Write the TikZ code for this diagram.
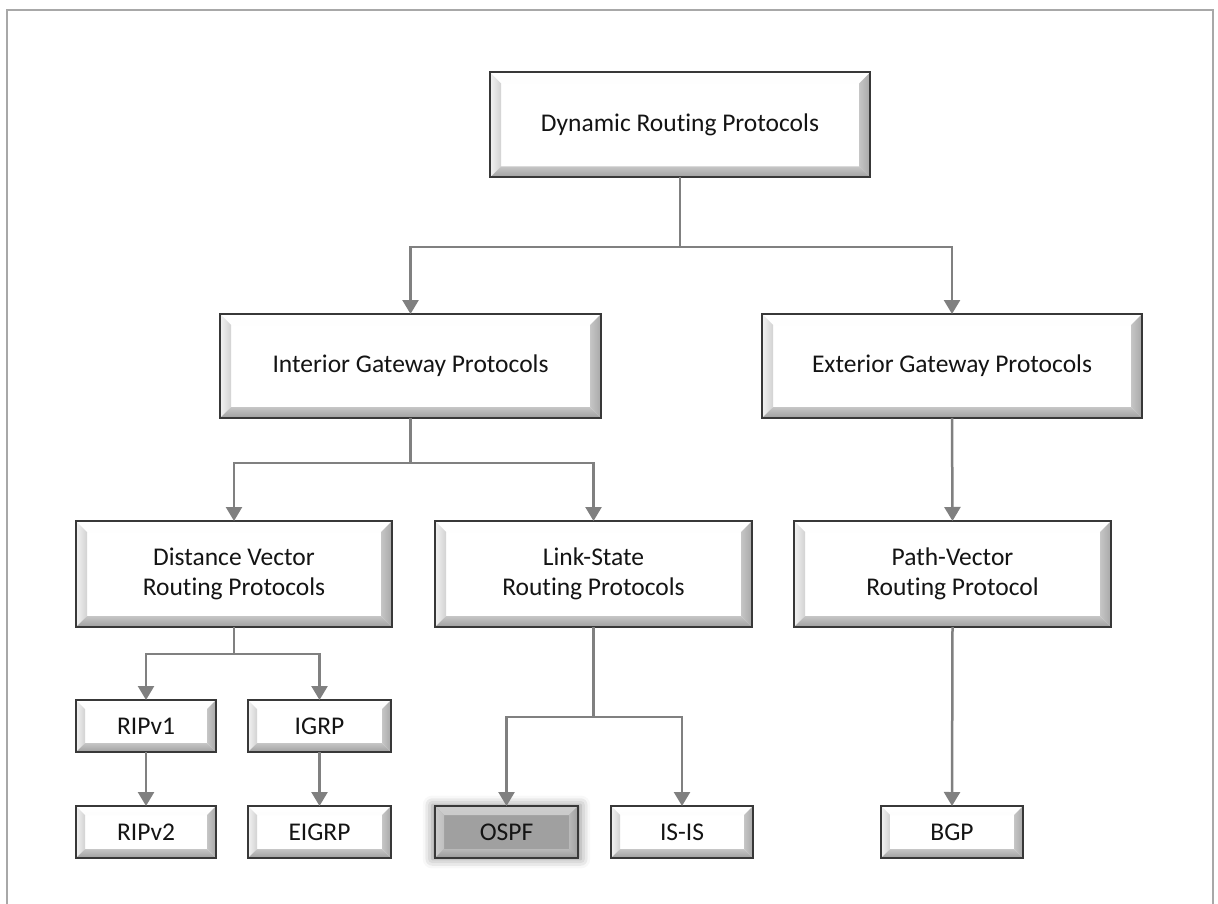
\documentclass[tikz,border=0pt]{standalone}
\usepackage{fontspec}
\setmainfont[Ligatures={NoCommon}]{Carlito}
\usetikzlibrary{arrows.meta,shadows.blur}
\definecolor{boxline}{HTML}{383838}
\definecolor{conn}{HTML}{808080}
\definecolor{txt}{HTML}{141414}
\definecolor{frame}{HTML}{A8A8A8}
\definecolor{ospffill}{HTML}{A0A0A0}
\newcommand\bevdraw[9]{%
  \path[top color=#2,bottom color=#3]
    (path picture bounding box.north west) -- (path picture bounding box.north east)
    -- ([shift={(-#1,-#1)}]path picture bounding box.north east)
    -- ([shift={(#1,-#1)}]path picture bounding box.north west) -- cycle;
  \path[left color=#4,right color=#5]
    (path picture bounding box.north west) -- ([shift={(#1,-#1)}]path picture bounding box.north west)
    -- ([shift={(#1,#1)}]path picture bounding box.south west)
    -- (path picture bounding box.south west) -- cycle;
  \path[left color=#6,right color=#7]
    (path picture bounding box.north east) -- ([shift={(-#1,-#1)}]path picture bounding box.north east)
    -- ([shift={(-#1,#1)}]path picture bounding box.south east)
    -- (path picture bounding box.south east) -- cycle;
  \path[top color=#8,bottom color=#9]
    (path picture bounding box.south west) -- ([shift={(#1,#1)}]path picture bounding box.south west)
    -- ([shift={(-#1,#1)}]path picture bounding box.south east)
    -- (path picture bounding box.south east) -- cycle;
}
\tikzset{
  bx/.style={draw=boxline, line width=2pt, fill=white, inner sep=0pt, outer sep=0pt,
    align=center, font=\fontsize{25.5}{30}\selectfont, text=txt},
  bigbox/.style={bx, minimum height=105pt,
    path picture={\bevdraw{11pt}{white}{gray!12}{gray!10}{gray!35}{gray!45}{gray!68}{gray!45}{gray!75}}},
  smallbox/.style={bx, minimum width=142pt, minimum height=52pt,
    path picture={\bevdraw{9pt}{white}{gray!12}{gray!10}{gray!35}{gray!45}{gray!68}{gray!45}{gray!75}}},
  darkbox/.style={bx, fill=ospffill, minimum width=142pt, minimum height=52pt,
    blur shadow={shadow xshift=0pt, shadow yshift=0pt, shadow blur radius=9pt, shadow opacity=45, shadow scale=1.04},
    path picture={\bevdraw{9pt}{gray!40}{gray!45}{gray!40}{gray!50}{gray!55}{gray!75}{gray!55}{gray!80}}},
  line/.style={draw=conn, line width=2.5pt},
  arr/.style={line, -{Triangle[width=16pt,length=14pt]}},
}
\begin{document}
\begin{tikzpicture}[x=1pt,y=-1pt]
\useasboundingbox (0,0) rectangle (1218,904);
\draw[frame, line width=2pt] (7,10) rectangle (1213,930);

\node[bigbox, minimum width=380pt] (dyn) at (680,125) {Dynamic Routing Protocols};
\node[bigbox, minimum width=381pt, minimum height=104pt] (igp) at (410.5,366) {Interior Gateway Protocols};
\node[bigbox, minimum width=380pt, minimum height=104pt] (egp) at (952,366) {Exterior Gateway Protocols};
\node[bigbox, minimum width=316pt, minimum height=106pt] (dv) at (234,574) {Distance Vector\\Routing Protocols};
\node[bigbox, minimum width=317pt, minimum height=106pt] (ls) at (593.5,574) {Link-State\\Routing Protocols};
\node[bigbox, minimum width=317pt, minimum height=106pt] (pv) at (952.5,574) {Path-Vector\\Routing Protocol};

\node[smallbox, minimum width=140pt] (rip1) at (146,726) {RIPv1};
\node[smallbox, minimum width=143pt] (igrp) at (319.5,726) {IGRP};
\node[smallbox, minimum width=140pt] (rip2) at (146,832) {RIPv2};
\node[smallbox, minimum width=143pt] (eigrp) at (319.5,832) {EIGRP};
\node[darkbox, minimum width=143pt] (ospf) at (506.5,832) {OSPF};
\node[smallbox] (isis) at (682,832) {IS-IS};
\node[smallbox] (bgp) at (952,832) {BGP};

\coordinate (j1) at (680,247);
\coordinate (j2) at (410.5,463);
\coordinate (j3) at (234,654);
\coordinate (j4) at (593.5,717);

\draw[line] (dyn.south) -- (j1);
\draw[arr] (j1) -| (igp.north);
\draw[arr] (j1) -| (egp.north);
\draw[line] (igp.south) -- (j2);
\draw[arr] (j2) -| (dv.north);
\draw[arr] (j2) -| (ls.north);
\draw[arr] (egp.south) -- (pv.north);
\draw[line] (dv.south) -- (j3);
\draw[arr] (j3) -| (rip1.north);
\draw[arr] (j3) -| (igrp.north);
\draw[arr] (rip1.south) -- (rip2.north);
\draw[arr] (igrp.south) -- (eigrp.north);
\draw[line] (ls.south) -- (j4);
\draw[arr] (j4) -| (ospf.north);
\draw[arr] (j4) -| (isis.north);
\draw[arr] (pv.south) -- (bgp.north);
\end{tikzpicture}
\end{document}
